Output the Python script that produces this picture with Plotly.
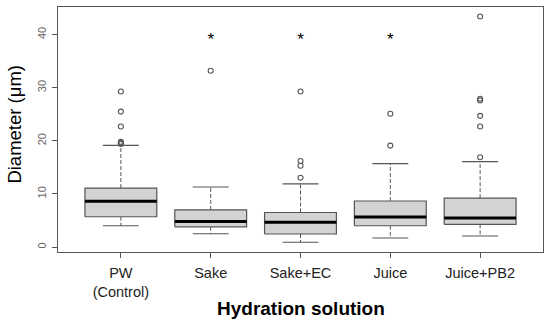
import plotly.graph_objects as go

categories = ["PW<br>(Control)", "Sake", "Sake+EC", "Juice", "Juice+PB2"]
q1 = [5.7, 3.8, 2.45, 4.0, 4.27]
median = [8.6, 4.8, 4.65, 5.65, 5.46]
q3 = [11.1, 7.0, 6.5, 8.66, 9.2]
whisker_low = [4.0, 2.5, 0.9, 1.7, 2.07]
whisker_high = [19.15, 11.3, 11.9, 15.7, 16.07]
outliers = [
    [19.4, 19.6, 19.8, 22.7, 25.5, 29.3],
    [33.2],
    [13.05, 15.3, 16.2, 29.3],
    [19.1, 25.1],
    [16.9, 22.7, 24.7, 27.6, 27.9, 43.4],
]
significant = [False, True, True, True, False]
star_y = 38.9

BW = 0.4   # half box width
CW = 0.2   # half cap width
xs = list(range(1, len(categories) + 1))

box_x, box_y = [], []
med_x, med_y = [], []
wd_x, wd_y = [], []
cap_x, cap_y = [], []
out_x, out_y = [], []
for i, x in enumerate(xs):
    box_x += [x - BW, x + BW, x + BW, x - BW, x - BW, None]
    box_y += [q1[i], q1[i], q3[i], q3[i], q1[i], None]
    med_x += [x - BW, x + BW, None]
    med_y += [median[i], median[i], None]
    wd_x += [x, x, None, x, x, None]
    wd_y += [q3[i], whisker_high[i], None, q1[i], whisker_low[i], None]
    cap_x += [x - CW, x + CW, None, x - CW, x + CW, None]
    cap_y += [whisker_high[i], whisker_high[i], None, whisker_low[i], whisker_low[i], None]
    for o in outliers[i]:
        out_x.append(x)
        out_y.append(o)

star_x = [x for x, s in zip(xs, significant) if s]
star_yv = [star_y for s in significant if s]

lc = "#555555"
fig = go.Figure()
fig.add_trace(go.Scatter(x=wd_x, y=wd_y, mode="lines",
                         line=dict(color=lc, width=1, dash="4px,2px"), hoverinfo="skip"))
fig.add_trace(go.Scatter(x=cap_x, y=cap_y, mode="lines",
                         line=dict(color=lc, width=1.2), hoverinfo="skip"))
fig.add_trace(go.Scatter(x=box_x, y=box_y, mode="lines", fill="toself",
                         fillcolor="#d3d3d3", line=dict(color=lc, width=1.2), hoverinfo="skip"))
fig.add_trace(go.Scatter(x=med_x, y=med_y, mode="lines",
                         line=dict(color="black", width=3), hoverinfo="skip"))
fig.add_trace(go.Scatter(x=out_x, y=out_y, mode="markers",
                         marker=dict(symbol="circle-open", size=5, color=lc, line=dict(width=1.1))))
fig.add_trace(go.Scatter(x=star_x, y=star_yv, mode="text", text=["*"] * len(star_x),
                         textfont=dict(size=17, color="black", family="Liberation Sans"),
                         textposition="middle center"))

fig.update_layout(
    width=550, height=325,
    margin=dict(l=58, r=7, t=7, b=73, autoexpand=False),
    paper_bgcolor="white", plot_bgcolor="white",
    showlegend=False,
    font=dict(family="Liberation Sans, Arial, sans-serif", color="black"),
    annotations=[
        dict(text="Diameter (μm)", xref="paper", yref="paper", x=0, y=0.52,
             xshift=-43, xanchor="center", yanchor="middle", textangle=-90,
             showarrow=False, font=dict(size=18.5, color="black")),
        dict(text="<b>Hydration solution</b>", xref="paper", yref="paper", x=0.5, y=0,
             yshift=-56, xanchor="center", yanchor="middle",
             showarrow=False, font=dict(size=19, color="black")),
    ],
)
fig.update_xaxes(
    range=[0.3, 5.7], tickmode="array", tickvals=xs, ticktext=categories,
    showgrid=False, zeroline=False, showline=True, mirror=True, linecolor=lc, linewidth=1,
    ticks="outside", ticklen=5, tickcolor=lc, automargin=False, ticklabelstandoff=3,
    tickfont=dict(size=14.5, color="#222222"),
)
fig.update_yaxes(
    range=[-0.94, 45.2], tickvals=[0, 10, 20, 30, 40], tickangle=-90,
    showgrid=False, zeroline=False, showline=True, mirror=True, linecolor=lc, linewidth=1,
    ticks="outside", ticklen=5, tickcolor=lc, automargin=False, ticklabelstandoff=2,
    tickfont=dict(size=11, color="#666666"),
)
fig.write_html("out.html", config={"displayModeBar": False},
               post_script="document.body.style.margin='0';")
